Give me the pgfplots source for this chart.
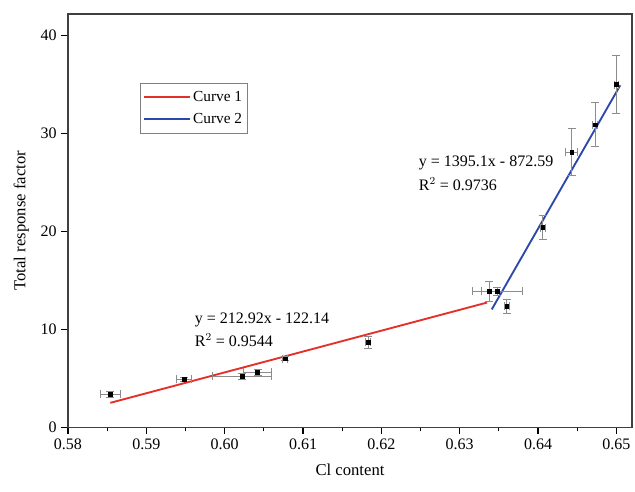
\documentclass[border=0pt]{standalone}
\usepackage{pgfplots}
\pgfplotsset{compat=1.18}
\usepackage{fontspec}
\setmainfont{Liberation Serif}
\usetikzlibrary{calc}

\definecolor{fitred}{RGB}{228,48,40}
\definecolor{fitblue}{RGB}{44,72,170}

\begin{document}
\begin{tikzpicture}
\begin{axis}[
  scale only axis,
  width=423pt, height=310pt,
  xmin=0.58, xmax=0.652,
  ymin=0, ymax=42.2,
  xtick={0.58,0.59,0.60,0.61,0.62,0.63,0.64,0.65},
  xticklabels={0.58,0.59,0.60,0.61,0.62,0.63,0.64,0.65},
  minor x tick num=1,
  ytick={0,10,20,30,40},
  xtick pos=bottom, ytick pos=left,
  tick align=outside,
  major tick length=5pt, minor tick length=3pt,
  tick style={black, line width=0.9pt},
  axis line style={line width=0.9pt, black!75},
  /pgf/number format/assume math mode=true,
  tick label style={font=\fontsize{12}{14}\selectfont},
  xlabel={Cl content},
  ylabel={Total response factor},
  label style={font=\fontsize{12.5}{15}\selectfont},
  xlabel style={yshift=-4pt},
  ylabel style={yshift=2pt},
  clip=false,
  legend style={
    at={(0.128,0.833)}, anchor=north west,
    draw=black!50, line width=0.6pt,
    font=\fontsize{11.5}{12.5}\selectfont,
    inner xsep=2pt, inner ysep=4pt, row sep=3pt,
  },
  legend cell align=left,
  legend image code/.code={\draw[#1] plot coordinates {(0pt,0.3pt) (34pt,0.3pt)};},
]
% fitted line, first regime
\addplot[fitred, line width=1.4pt] coordinates {(0.5854,2.50) (0.6335,12.74)};
\addlegendentry{Curve 1}
% fitted line, second regime
\addplot[fitblue, line width=1.4pt] coordinates {(0.6341,12.04) (0.6505,34.92)};
\addlegendentry{Curve 2}

% measured points with error bars: x, y, x error, y error
\addplot[
  forget plot,
  only marks, mark=square*, mark size=1.4pt, black,
  error bars/.cd,
    x dir=both, x explicit,
    y dir=both, y explicit,
    error bar style={black!45, line width=0.7pt},
    error mark options={rotate=90, mark size=3pt, black!45, line width=0.7pt},
] table[x=x, y=y, x error=ex, y error=ey] {
x       y      ex      ey
0.5854  3.4    0.0013  0.3
0.5948  4.9    0.0010  0.2
0.6022  5.2    0.0038  0.3
0.6042  5.6    0.0018  0.3
0.6077  7.0    0.0003  0.2
0.6183  8.7    0.0003  0.6
0.6338  13.9   0.0010  1.0
0.6348  13.9   0.0032  0.4
0.6360  12.35  0.0003  0.7
0.6406  20.4   0.0003  1.2
0.6443  28.1   0.0008  2.4
0.6473  30.9   0.0003  2.25
0.6500  35.0   0.0003  2.95
};

% regression equations
\node[anchor=west, font=\fontsize{12}{14}\selectfont] at (axis cs:0.6242,27.0) {y = 1395.1x - 872.59};
\node[anchor=west, font=\fontsize{12}{14}\selectfont] at (axis cs:0.6242,24.8) {R$^2$ = 0.9736};
\node[anchor=west, font=\fontsize{12}{14}\selectfont] at (axis cs:0.5956,11.0) {y = 212.92x - 122.14};
\node[anchor=west, font=\fontsize{12}{14}\selectfont] at (axis cs:0.5956,8.9) {R$^2$ = 0.9544};
\end{axis}
\path ($(current axis.south west)+(-51pt,-48pt)$) rectangle ($(current axis.north east)+(2.25pt,10.5pt)$);
\end{tikzpicture}
\end{document}
